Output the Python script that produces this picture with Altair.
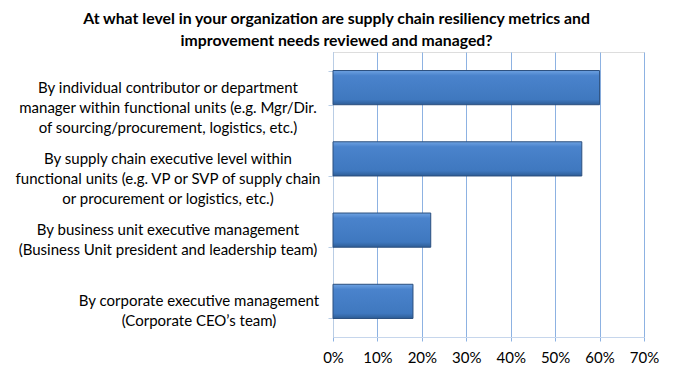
import altair as alt
import pandas as pd

categories = [
    "By individual contributor or department|manager within functional units (e.g. Mgr/Dir.|of sourcing/procurement, logistics, etc.)",
    "By supply chain executive level within|functional units (e.g. VP or SVP of supply chain|or procurement or logistics, etc.)",
    "By business unit executive management|(Business Unit president and leadership team)",
    "By corporate executive management|(Corporate CEO’s team)",
]
values = [0.60, 0.56, 0.22, 0.18]
x_ticks = [0, 0.1, 0.2, 0.3, 0.4, 0.5, 0.6, 0.7]
title_lines = [
    "At what level in your organization are supply chain resiliency metrics and",
    "improvement needs reviewed and managed?",
]

df = pd.DataFrame({"category": categories, "value": values})

FONT = "Lato"
grad = alt.Gradient(
    gradient="linear",
    x1=0, y1=0, x2=0, y2=1,
    stops=[
        alt.GradientStop(color="#6ea2e2", offset=0),
        alt.GradientStop(color="#4a83cc", offset=0.15),
        alt.GradientStop(color="#3f78bf", offset=0.85),
        alt.GradientStop(color="#2e5d96", offset=1),
    ],
)

y_enc = alt.Y(
    "category:N",
    sort=categories,
    scale=alt.Scale(paddingInner=0.52, paddingOuter=0.26),
    axis=alt.Axis(
        labels=False,
        domain=True,
        domainColor="#b9cde5",
        ticks=True,
        tickBand="extent",
        tickSize=5,
        tickColor="#b9cde5",
        grid=False,
        title=None,
    ),
)

bars = (
    alt.Chart(df)
    .mark_bar(color=grad, stroke="#2b4f7e", strokeWidth=1)
    .encode(
        x=alt.X(
            "value:Q",
            scale=alt.Scale(domain=[0, 0.7], nice=False),
            axis=alt.Axis(
                values=x_ticks,
                format=".0%",
                grid=True,
                gridColor="#8db2e2",
                gridWidth=1,
                domain=True,
                domainColor="#c6d6ec",
                ticks=True,
                tickSize=4,
                tickColor="#8db2e2",
                labelFont=FONT,
                labelFontSize=15,
                labelColor="#000000",
                labelPadding=9,
                labelFlush=False,
                title=None,
            ),
        ),
        y=y_enc,
    )
)

labels = (
    alt.Chart(df)
    .transform_calculate(lines="split(datum.category, '|')")
    .mark_text(
        font=FONT,
        fontSize=15,
        color="#000000",
        align="center",
        baseline="middle",
        lineHeight=20,
    )
    .encode(
        y=alt.Y("category:N", sort=categories),
        x=alt.value({"expr": "indexof(datum.category, 'By corporate') == 0 ? -134 : -165"}),
        text="lines:N",
    )
)

chart = (
    alt.layer(bars, labels)
    .properties(
        width=311,
        height=285,
        autosize=alt.AutoSizeParams(type="none"),
        padding={"left": 325, "top": 44, "right": 20, "bottom": 30},
        title=alt.TitleParams(
            text=title_lines,
            font=FONT,
            fontSize=15.8,
            fontWeight="bold",
            color="#000000",
            anchor="middle",
            frame="bounds",
            lineHeight=22,
            offset=2,
        ),
    )
    .configure_view(stroke=None)
    .configure(background="white")
)

chart.save("out.html", embed_options={"renderer": "svg", "actions": False})
